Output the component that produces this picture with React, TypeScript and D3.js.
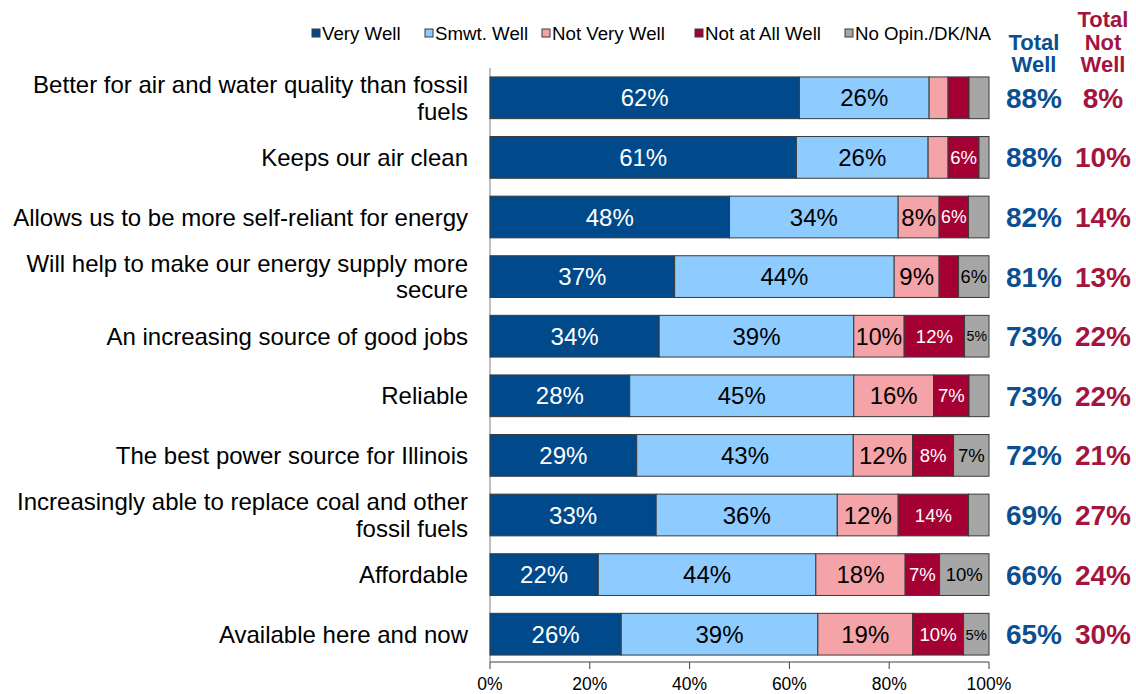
import React, { useEffect, useRef } from "react";
import * as d3 from "d3";

const categories: string[][] = [
  ["Better for air and water quality than fossil", "fuels"],
  ["Keeps our air clean"],
  ["Allows us to be more self-reliant for energy"],
  ["Will help to make our energy supply more", "secure"],
  ["An increasing source of good jobs"],
  ["Reliable"],
  ["The best power source for Illinois"],
  ["Increasingly able to replace coal and other", "fossil fuels"],
  ["Affordable"],
  ["Available here and now"],
];

const seriesNames = ["Very Well", "Smwt. Well", "Not Very Well", "Not at All Well", "No Opin./DK/NA"];
const veryWell = [62.0, 61.4, 48.0, 37.0, 33.9, 28.0, 29.4, 33.3, 21.7, 26.3];
const smwtWell = [26.0, 26.4, 33.8, 44.0, 39.0, 44.9, 43.4, 36.3, 43.6, 39.4];
const notVeryWell = [3.8, 4.0, 8.2, 9.0, 10.1, 16.0, 11.9, 12.2, 17.9, 19.0];
const notAtAllWell = [4.2, 6.2, 5.9, 3.9, 12.1, 7.1, 8.2, 14.1, 6.9, 10.2];
const noOpinion = [4.0, 2.0, 4.1, 6.1, 4.9, 4.0, 7.1, 4.1, 9.9, 5.1];
const totalWell = [88, 88, 82, 81, 73, 73, 72, 69, 66, 65];
const totalNotWell = [8, 10, 14, 13, 22, 22, 21, 27, 24, 30];
const xTicks = [0, 20, 40, 60, 80, 100];

const colors = ["#004a8c", "#8ecbff", "#f4a3a8", "#a50034", "#a6a6a6"];
const labelColors = ["#ffffff", "#000000", "#000000", "#ffffff", "#000000"];
const labelSizes = [24, 24, 24, 18.5, 18.5];
const blue = "#0b4f91";
const red = "#a3143f";
const FONT = "'Liberation Sans', Arial, sans-serif";

function emWidth(s: string) {
  let w = 0;
  for (const c of s) w += c === "%" ? 0.889 : 0.556;
  return w;
}

export default function App() {
  const ref = useRef<SVGSVGElement>(null);
  useEffect(() => {
    const svg = d3.select(ref.current);
    svg.selectAll("*").remove();
    const left = 490, right = 989, top = 68, bottom = 664;
    const x = d3.scaleLinear().domain([0, 100]).range([left, right]);
    const y = d3.scaleBand<number>().domain(d3.range(categories.length)).range([top, bottom]).paddingInner(0.3).paddingOuter(0.15);
    const series = [veryWell, smwtWell, notVeryWell, notAtAllWell, noOpinion];

    svg.append("line").attr("x1", left).attr("x2", left).attr("y1", top).attr("y2", 662).attr("stroke", "#808080").attr("stroke-width", 1);

    categories.forEach((_, i) => {
      let acc = 0;
      series.forEach((s, k) => {
        const v = s[i];
        const x0 = x(acc), x1 = x(acc + v);
        acc += v;
        const by = y(i)!;
        svg.append("rect").attr("x", x0).attr("y", by).attr("width", x1 - x0).attr("height", y.bandwidth())
          .attr("fill", colors[k]).attr("stroke", "#3a3a3a").attr("stroke-width", 1);
        const r = Math.round(v);
        if (r >= 5) {
          const w = x1 - x0;
          const label = r + "%";
          const fs = Math.min(labelSizes[k], (w - 4) / emWidth(label));
          svg.append("text").attr("x", (x0 + x1) / 2).attr("y", by + y.bandwidth() / 2).attr("dy", "0.36em")
            .attr("text-anchor", "middle").attr("font-family", FONT).attr("font-size", fs)
            .attr("fill", labelColors[k]).text(label);
        }
      });
      const cy = y(i)! + y.bandwidth() / 2;
      const lines = categories[i];
      const lh = 26.5;
      lines.forEach((ln, j) => {
        svg.append("text").attr("x", 468).attr("y", cy + (j - (lines.length - 1) / 2) * lh).attr("dy", "0.36em")
          .attr("text-anchor", "end").attr("font-family", FONT).attr("font-size", 24).attr("fill", "#000").text(ln);
      });
      svg.append("text").attr("x", 1034).attr("y", cy).attr("dy", "0.36em").attr("text-anchor", "middle")
        .attr("font-family", FONT).attr("font-weight", "bold").attr("font-size", 28).attr("fill", blue).text(totalWell[i] + "%");
      svg.append("text").attr("x", 1103).attr("y", cy).attr("dy", "0.36em").attr("text-anchor", "middle")
        .attr("font-family", FONT).attr("font-weight", "bold").attr("font-size", 28).attr("fill", red).text(totalNotWell[i] + "%");
    });

    const axisY = 662;
    svg.append("line").attr("x1", left).attr("x2", right).attr("y1", axisY).attr("y2", axisY).attr("stroke", "#404040");
    xTicks.forEach((t) => {
      svg.append("line").attr("x1", x(t)).attr("x2", x(t)).attr("y1", axisY).attr("y2", axisY + 7).attr("stroke", "#404040");
      svg.append("text").attr("x", x(t)).attr("y", 684).attr("dy", "0.36em").attr("text-anchor", "middle")
        .attr("font-family", FONT).attr("font-size", 17.5).attr("fill", "#000").text(t + "%");
    });

    const hdr = (tx: number, ty: number, s: string, c: string) =>
      svg.append("text").attr("x", tx).attr("y", ty).attr("dy", "0.36em").attr("text-anchor", "middle")
        .attr("font-family", FONT).attr("font-weight", "bold").attr("font-size", 22).attr("fill", c).text(s);
    hdr(1034, 42, "Total", blue);
    hdr(1034, 64, "Well", blue);
    hdr(1103, 19, "Total", red);
    hdr(1103, 42, "Not", red);
    hdr(1103, 64, "Well", red);

    const legendX = [312, 425, 542, 695, 845];
    seriesNames.forEach((n, k) => {
      svg.append("rect").attr("x", legendX[k]).attr("y", 29).attr("width", 8).attr("height", 8)
        .attr("fill", colors[k]).attr("stroke", "#3a3a3a").attr("stroke-width", 1);
      svg.append("text").attr("x", legendX[k] + 10).attr("y", 33).attr("dy", "0.36em")
        .attr("font-family", FONT).attr("font-size", 18.7).attr("fill", "#000").text(n);
    });
  }, []);
  return <svg ref={ref} width={1136} height={694} style={{ position: "absolute", left: 0, top: 0, background: "#fff" }} />;
}
